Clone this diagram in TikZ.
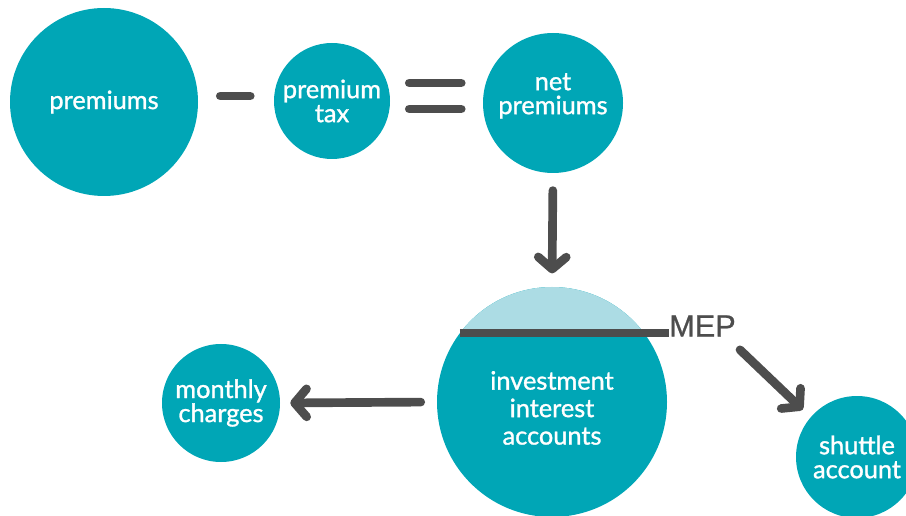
\documentclass[tikz,border=0pt]{standalone}
\usepackage{fontspec}
\setmainfont{Lato}[FakeBold=1.2]
\newfontfamily\mepfont{Liberation Sans}[FakeBold=0.8]
\usetikzlibrary{positioning}
\usetikzlibrary{calc}
\usetikzlibrary{arrows.meta}
\definecolor{bubbleteal}{HTML}{00A6B6}
\definecolor{caplight}{HTML}{ACDCE4}
\definecolor{signgrey}{HTML}{4D4D4D}

\begin{document}
\begin{tikzpicture}[x=0.75pt,y=-0.75pt,
             bubble/.style={circle, fill=bubbleteal, text=white, inner sep=0pt,
                align=center, font=\fontsize{19}{18}\selectfont},
             sign/.style={draw=signgrey, line width=6.5pt, line cap=round},
             connections/.style={draw=signgrey, line width=6.5pt, line cap=round,
                -{Straight Barb[length=9pt, width=21pt, round]}},
          ]
          \useasboundingbox (0,0) rectangle (906,516);
          \clip (0,0) rectangle (906,516);

          \node at (104,102) (premiums) [bubble, minimum size=141pt]  {premiums};
          \node at (332,101) (tax) [bubble, minimum size=87pt]  {premium\\tax};
          \node at (553,103) (net) [bubble, minimum size=105pt, text depth=14pt]  {net\\premiums};
          \node at (552,402) (invest) [bubble, minimum size=172.5pt, text height=64pt,
                font=\fontsize{19}{20.6}\selectfont]  {investment\\interest\\accounts};
          \node at (221,403) (monthly) [bubble, minimum size=88.5pt]  {monthly\\charges};
          \node at (857,457) (shuttle) [bubble, minimum size=91.5pt]  {shuttle\\account};
          \node at (669,326) (mep) [anchor=west, inner sep=0pt, text=signgrey,
                font=\mepfont\fontsize{23}{23}\selectfont]  {MEP};

          \begin{scope}
            \clip (invest.143.13) rectangle ($(invest.north)+(130,-5)$);
            \fill[caplight] (invest.center) circle[radius=115];
          \end{scope}
          \draw[signgrey, line width=6pt] (invest.143.13) -- (invest.143.13 -| mep.west);

          \draw[sign] ($(premiums.east)+(22,-6)$) -- ++(30,0);
          \draw[sign] ($(tax.east)+(19,-18)$) -- ++(52,0);
          \draw[sign] ($(tax.east)+(19,8)$) -- ++(52,0);

          \draw[connections, shorten <=13pt, shorten >=10pt] (net.south) -- (invest.north);
          \draw[connections, shorten <=12pt, shorten >=7.5pt] (invest.west) -- (monthly.east);
          \draw[connections] ($(mep.south east)+(4,13)$) -- ($(shuttle.north west)+(-11,-4)$);
       \end{tikzpicture}
\end{document}
